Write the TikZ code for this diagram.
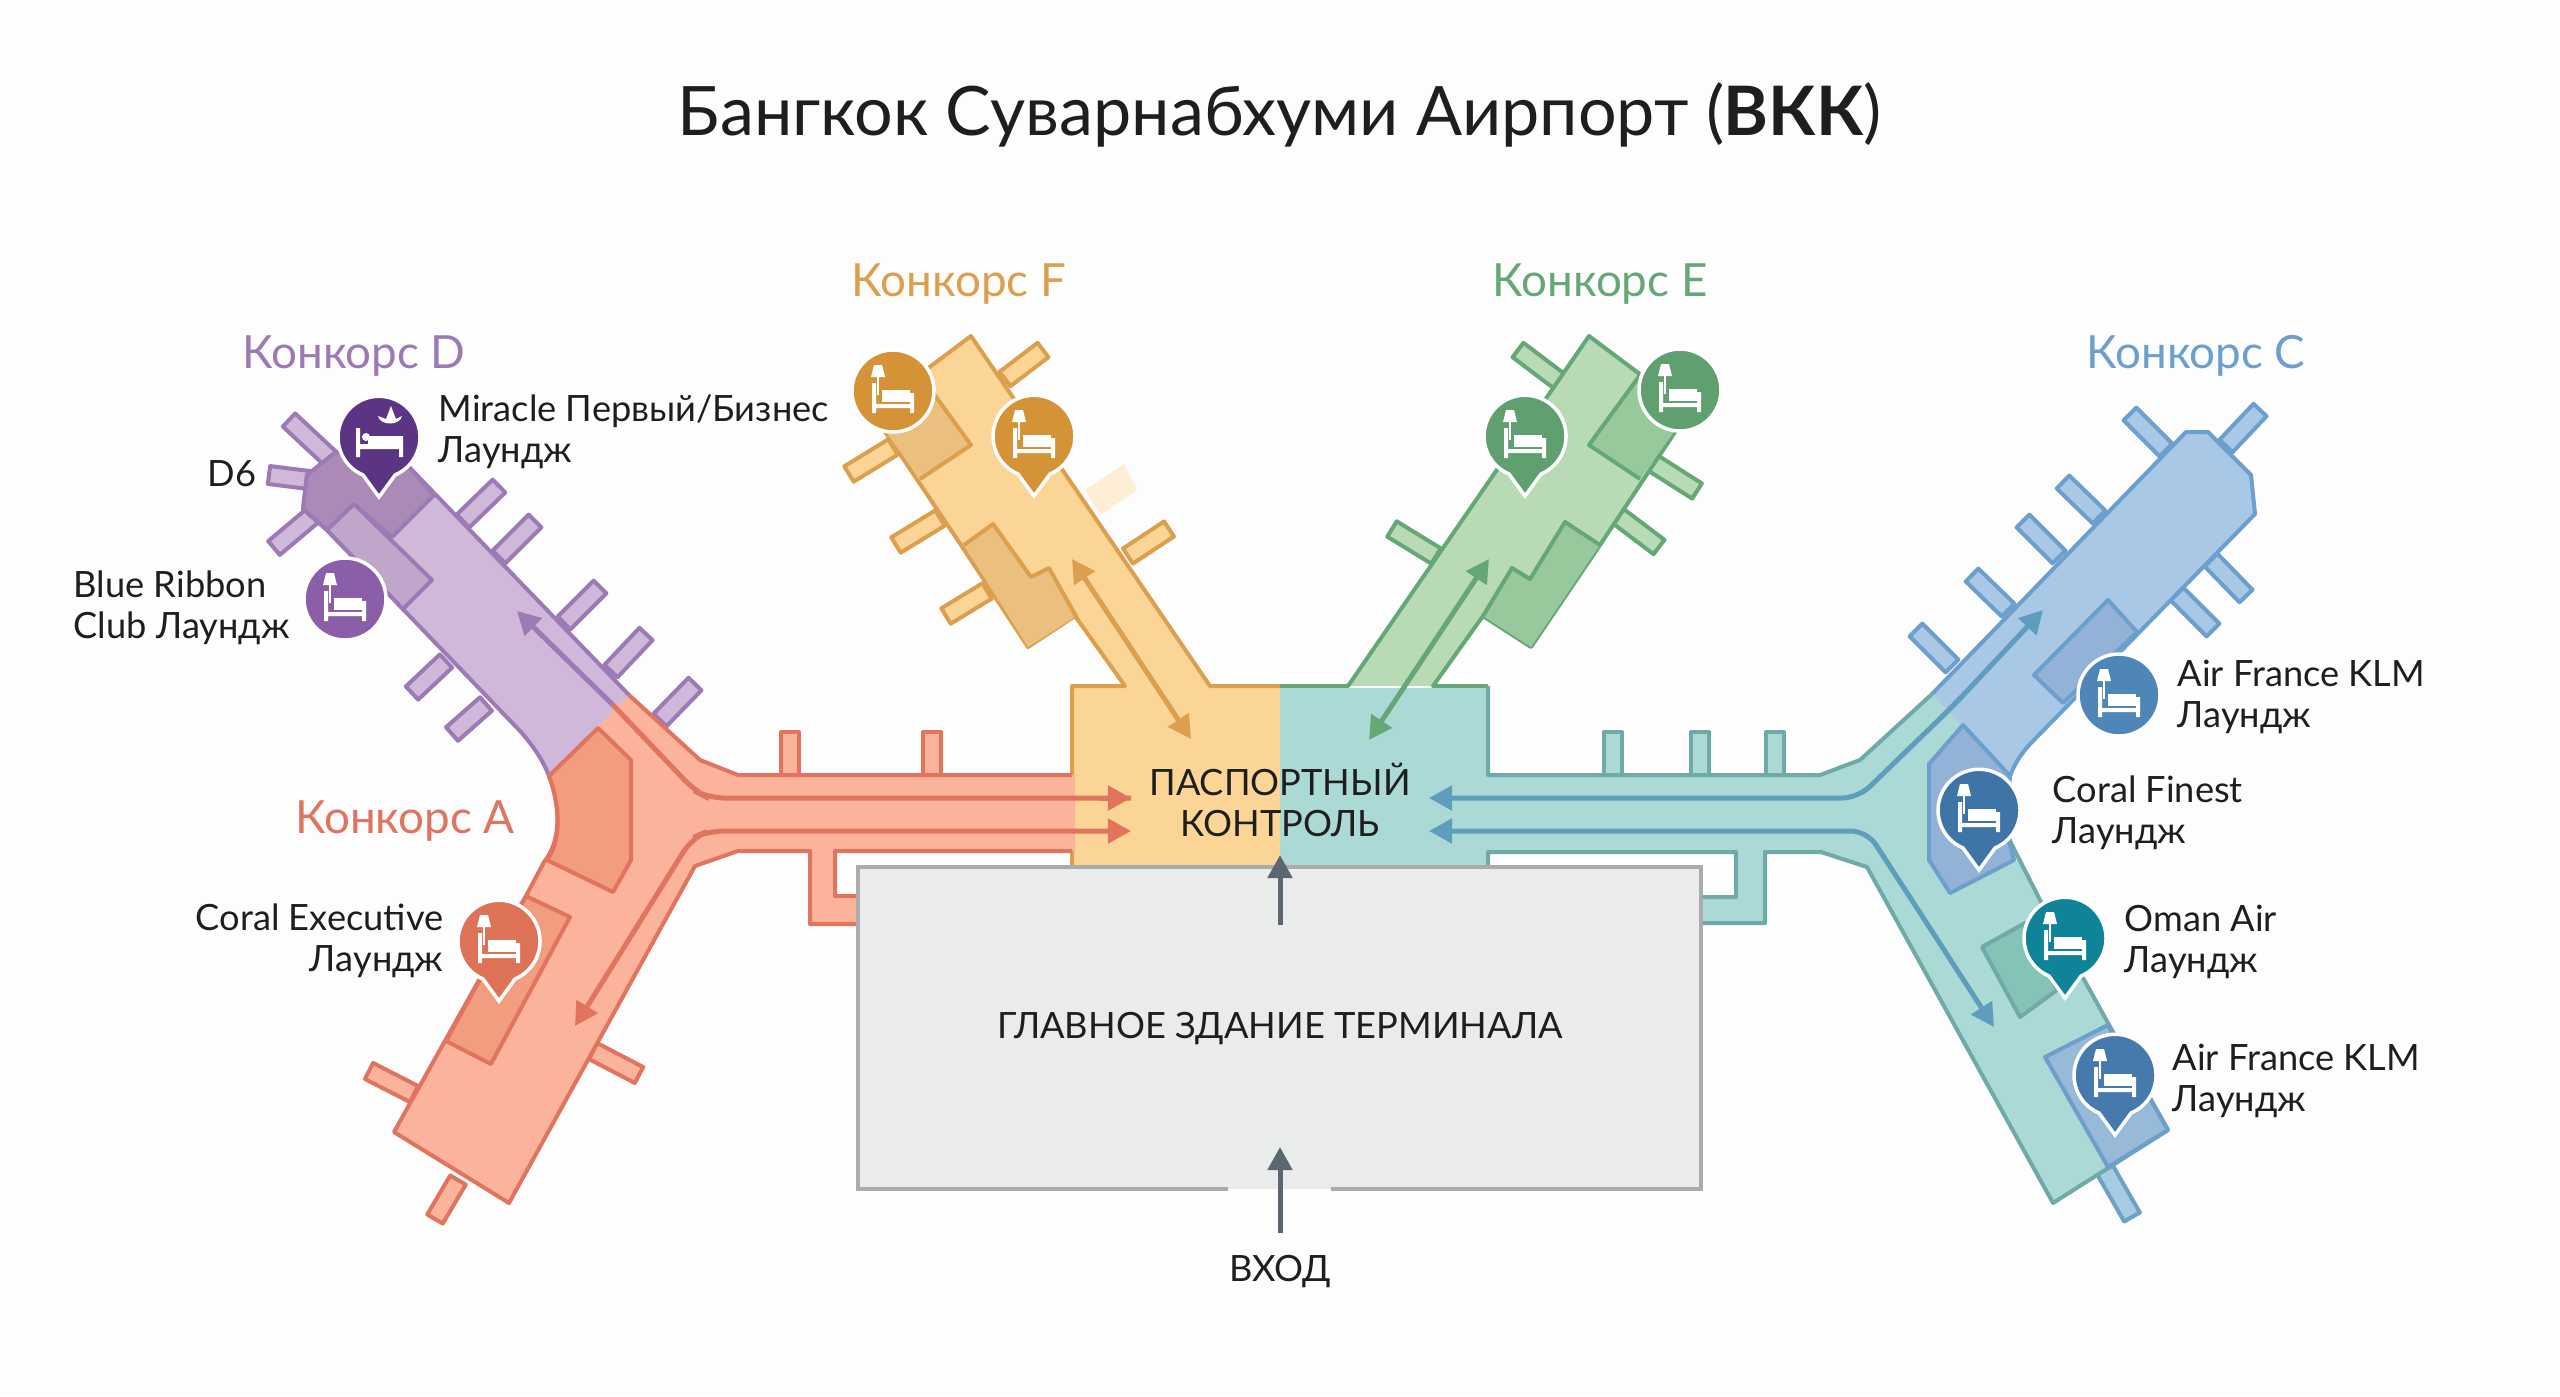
\documentclass[tikz,border=0pt]{standalone}
\usepackage{fontspec}
\setmainfont{Lato}
\usetikzlibrary{arrows.meta,calc}
\definecolor{paper}{HTML}{FDFDFD}
\definecolor{inkt}{HTML}{1E1E1E}
\definecolor{hallgray}{HTML}{EAEBEB}
\definecolor{hallline}{HTML}{ABABAB}
\definecolor{entryc}{HTML}{5B6670}
% fill, line, lounge block, mark
\definecolor{purF}{HTML}{CFB8DA}\definecolor{purL}{HTML}{9C7AB3}\definecolor{purB}{HTML}{AC8AB8}
\definecolor{corF}{HTML}{FBB39B}\definecolor{corL}{HTML}{E0745E}\definecolor{corB}{HTML}{F29C80}
\definecolor{oraF}{HTML}{FBD596}\definecolor{oraL}{HTML}{DB9F4E}\definecolor{oraB}{HTML}{EBC07F}
\definecolor{greF}{HTML}{B8DAB5}\definecolor{greL}{HTML}{66A778}\definecolor{greB}{HTML}{98C99C}
\definecolor{teaF}{HTML}{ABD9D6}\definecolor{teaL}{HTML}{6FA9A8}\definecolor{teaB}{HTML}{85C3B8}
\definecolor{bluF}{HTML}{A8C8E6}\definecolor{bluL}{HTML}{6C9FCC}\definecolor{bluB}{HTML}{92B2D8}
\definecolor{lanC}{HTML}{5F9DBD}
\definecolor{mkMir}{HTML}{5B3584}\definecolor{mkRib}{HTML}{8B5FA8}\definecolor{mkCor}{HTML}{DE7256}
\definecolor{mkOra}{HTML}{D49336}\definecolor{mkGre}{HTML}{5F9F70}\definecolor{mkAfa}{HTML}{4F86B8}
\definecolor{mkFin}{HTML}{3F75A6}\definecolor{mkOma}{HTML}{0F8398}\definecolor{mkAfb}{HTML}{4679AC}
\tikzset{
  wall/.style={line width=.04cm,line join=round},
  lane/.style={line width=.05cm,rounded corners=.16cm,>={Triangle[length=.23cm,width=.24cm]}},
  txt/.style={inner sep=0pt,text=inkt,font=\fontsize{10.3}{11.7}\selectfont},
  cname/.style={inner sep=0pt,font=\fontsize{13}{14}\selectfont},
}
% gate stub: two end points and the colours
\newcommand{\gate}[4]{\draw[wall,fill=#3,draw=#4]
  ($#1!.09cm!90:#2$) -- ($#2!.09cm!-90:#1$) -- ($#2!.09cm!90:#1$) -- ($#1!.09cm!-90:#2$) -- cycle;}
% bed with its lamp, in white
\newcommand{\bed}[2]{\begin{scope}[shift={(#1,#2)}]
  \fill[white] (-21,-8) rectangle (-17,22) (17,2) rectangle (21,22) (-21,13) rectangle (21,17);
  \fill[white] (-11,-1) rectangle (17,11);
  \fill[white] (-19,-26) -- (-11,-26) -- (-8,-14) -- (-22,-14) -- cycle;
  \draw[white,line width=.02cm] (-15,-14) -- (-15,4);
\end{scope}}
% round lounge mark, and the same with a point under it
\newcommand{\lounge}[3]{\fill[#3,draw=white,line width=.035cm] (#1,#2) circle (41);
  \bed{#1}{#2}}
\newcommand{\loungepin}[3]{\fill[#3,draw=white,line width=.035cm]
  (#1-16,#2+38) arc[start angle=113,end angle=427,radius=41] -- (#1,#2+60) -- cycle;
  \bed{#1}{#2}}
\begin{document}
\begin{tikzpicture}[x=.01cm,y=-.01cm]
\useasboundingbox (0,0) rectangle (2560,1396);
\fill[paper] (0,0) rectangle (2560,1396);
% gates D
\foreach \ax/\ay/\bx/\by in {289/420/334/462,269/475/309/480,274/548/312/516,499/486/463/521,535/521/499/557,600/587/564/623,646/634/611/671,695/684/660/720,412/693/446/661,452/734/486/704}
  \gate{(\ax,\ay)}{(\bx,\by)}{purF}{purL};
% gates A
\foreach \ax/\ay/\bx/\by in {790/732/790/778,932/732/932/778,369/1071/414/1094,639/1075/593/1051,435/1219/458/1180}
  \gate{(\ax,\ay)}{(\bx,\by)}{corF}{corL};
% gates F
\foreach \ax/\ay/\bx/\by in {1043/350/1005/379,849/474/893/447,896/545/940/518,946/616/987/591,1169/529/1128/556}
  \gate{(\ax,\ay)}{(\bx,\by)}{oraF}{oraL};
\fill[oraF!40!white] (1124,464) -- (1137,490) -- (1100,515) -- (1085,490) -- cycle;
% gates E
\foreach \ax/\ay/\bx/\by in {1518/350/1559/381,1697/491/1653/463,1659/547/1618/516,1392/529/1436/556}
  \gate{(\ax,\ay)}{(\bx,\by)}{greF}{greL};
% gates C and the teal pier
\foreach \ax/\ay/\bx/\by in {2130/414/2166/450,2260/410/2226/446,2063/482/2099/517,2023/521/2059/557,1972/575/2008/610,1916/630/1952/666,2246/596/2211/560,2213/630/2177/594}
  \gate{(\ax,\ay)}{(\bx,\by)}{bluF}{bluL};
\foreach \ax/\ay/\bx/\by in {1613/732/1613/778,1700/732/1700/778,1775/732/1775/778}
  \gate{(\ax,\ay)}{(\bx,\by)}{teaF}{teaL};
\gate{(2132,1217)}{(2105,1170)}{bluF!85!teaF}{bluL!70!teaL};
% concourse F with the left half of the hall
\fill[oraF] (971,336) -- (871,411) -- (961,545) -- (1028,647) -- (1075,616) -- (1125,686) -- (1072,686) -- (1072,867) -- (1280,867) -- (1280,686) -- (1210,686) -- cycle;
\draw[wall,oraL] (1280,686) -- (1210,686) -- (971,336) -- (871,411) -- (961,545) -- (1028,647) -- (1075,616) -- (1125,686) -- (1072,686) -- (1072,775) (1072,851) -- (1072,867);
\fill[oraB] (920,375) -- (971,445) -- (920,479) -- (871,411) -- cycle;
\draw[wall,oraL] (920,375) -- (971,445) -- (920,479);
\fill[oraB] (993,524) -- (1031,577) -- (1049,568) -- (1078,615) -- (1028,647) -- (964,545) -- cycle;
\draw[wall,oraL] (964,545) -- (993,524) -- (1031,577) -- (1049,568) -- (1078,620);
% concourse E
\fill[greF] (1589,336) -- (1689,411) -- (1600,545) -- (1531,647) -- (1483,616) -- (1433,686) -- (1348,686) -- cycle;
\draw[wall,greL] (1280,686) -- (1348,686) -- (1589,336) -- (1689,411) -- (1600,545) -- (1531,647) -- (1483,616) -- (1433,686) -- (1488,686);
\fill[greB] (1640,375) -- (1589,445) -- (1640,479) -- (1689,411) -- cycle;
\draw[wall,greL] (1640,375) -- (1589,445) -- (1640,479);
\fill[greB] (1565,522) -- (1530,579) -- (1512,568) -- (1483,616) -- (1531,647) -- (1600,545) -- cycle;
\draw[wall,greL] (1600,545) -- (1565,522) -- (1530,579) -- (1512,568) -- (1483,616);
% right half of the hall, teal corridor and pier
\fill[teaF] (1280,688) -- (1488,688) -- (1488,775) -- (1820,775) -- (1860,760) -- (1932,694) -- (2010,776) .. controls (2004,800) and (2004,825) .. (2011,843) -- (2040,900) -- (2113,1032) -- (2168,1130) -- (2053,1203) -- (1867,867) -- (1821,852) -- (1765,852) -- (1765,923) -- (1695,923) -- (1695,897) -- (1736,897) -- (1736,852) -- (1488,852) -- (1488,867) -- (1280,867) -- cycle;
\draw[wall,teaL] (1488,686) -- (1488,775) -- (1820,775) -- (1860,760) -- (1932,694) (2010,776) .. controls (2004,800) and (2004,825) .. (2011,843) -- (2040,900) -- (2113,1032) -- (2168,1130) -- (2053,1203) -- (1867,867) -- (1821,852) -- (1765,852) -- (1765,923) -- (1695,923) (1695,897) -- (1736,897) -- (1736,852) -- (1488,852) -- (1488,867);
\draw[wall,fill=teaB,draw=teaL] (1982,947) -- (2025,923) -- (2057,990) -- (2020,1017) -- cycle;
\draw[wall,fill=bluB!80!teaF,draw=bluL] (2045,1057) -- (2108,1025) -- (2168,1130) -- (2108,1167) -- cycle;
% concourse C
\fill[bluF] (1932,694) -- (2186,432) -- (2208,432) -- (2251,475) -- (2255,514) -- (2030,744) .. controls (2020,755) and (2014,765) .. (2010,776) -- cycle;
\draw[wall,bluL] (1932,694) -- (2186,432) -- (2208,432) -- (2251,475) -- (2255,514) -- (2030,744) .. controls (2020,755) and (2014,765) .. (2010,776);
\draw[wall,fill=bluB,draw=bluL] (2108,600) -- (2137,632) -- (2063,703) -- (2034,675) -- cycle;
\draw[wall,fill=bluB,draw=bluL] (1963,725) -- (1929,764) -- (1929,860) -- (1950,893) -- (2014,860) -- (2006,830) -- (2010,776) -- cycle;
% concourse D
\fill[purF] (629,695) -- (410,468) -- (336,452) -- (307,475) -- (303,509) -- (327,530) -- (521,732) .. controls (533,746) and (543,760) .. (549,776) -- cycle;
\draw[wall,purL] (629,695) -- (410,468) -- (336,452) -- (307,475) -- (303,509) -- (327,530) -- (521,732) .. controls (533,746) and (543,760) .. (549,776);
\draw[wall,fill=purB,draw=purL] (336,452) -- (307,475) -- (303,509) -- (327,530) -- (354,504) -- (392,537) -- (434,495) -- (410,468) -- cycle;
\draw[wall,fill=purF!60!purB,draw=purL] (354,504) -- (432,580) -- (403,609) -- (327,530) -- cycle;
% concourse A
\fill[corF] (1075,775) -- (738,775) -- (700,760) -- (629,695) -- (549,776) .. controls (560,805) and (562,840) .. (544,862) -- (526,896) -- (394,1132) -- (509,1203) -- (695,866) -- (738,851) -- (810,851) -- (810,924) -- (865,924) -- (865,896) -- (835,896) -- (835,851) -- (1075,851) -- cycle;
\draw[wall,corL] (1072,775) -- (738,775) -- (700,760) -- (629,695) (549,776) .. controls (560,805) and (562,840) .. (544,862) -- (526,896) -- (394,1132) -- (509,1203) -- (695,866) -- (738,851) -- (810,851) -- (810,924) -- (865,924) (865,896) -- (835,896) -- (835,851) -- (1072,851);
\draw[wall,fill=corB,draw=corL] (598,728) -- (631,760) -- (631,860) -- (613,892) -- (547,860) .. controls (562,840) and (560,805) .. (549,776) -- cycle;
\draw[wall,fill=corB,draw=corL] (526,896) -- (570,917) -- (491,1064) -- (446,1041) -- cycle;
% terminal
\draw[line width=.04cm,draw=hallline,fill=hallgray] (858,867) rectangle (1701,1189);
\fill[hallgray] (1228,1186) rectangle (1331,1189);
\fill[paper] (1228,1189) rectangle (1331,1192);
% lanes
\draw[lane,corL] (612,704) -- (695,791) -- (708,798) -- (1131,798);
\draw[lane,->,corL] (1100,798) -- (1131,798);
\draw[lane,<->,corL] (1131,831) -- (708,831) -- (692,838) -- (575,1026);
\draw[lane,->,purL] (612,704) -- (517,611);
\draw[lane,<->,oraL] (1072,559) -- (1191,739);
\draw[lane,<->,greL] (1489,559) -- (1369,740);
\draw[lane,<->,lanC] (1429,798) -- (1858,798) -- (1952,707) -- (2043,610);
\draw[lane,<->,lanC] (1429,831) -- (1867,831) -- (1994,1027);
\draw[lane,->,entryc] (1280,925) -- (1280,855);
\draw[lane,->,entryc] (1280,1233) -- (1280,1147);
% lounge marks
\fill[mkMir,draw=white,line width=.035cm] (363,475) arc[start angle=113,end angle=427,radius=41] -- (379,497) -- cycle;
\fill[white] (356,428) rectangle (360,457) (399,436) rectangle (403,457) (356,444) rectangle (403,449) (368,436) rectangle (399,444);
\fill[white] (366,437) circle (4);
\fill[white] (378,416) .. controls (380,426) and (400,426) .. (402,416) -- (396,419) -- (391,406) -- (386,419) -- cycle;
\lounge{345}{599}{mkRib}
\loungepin{499}{941}{mkCor}
\lounge{893}{391}{mkOra}
\loungepin{1034}{436}{mkOra}
\loungepin{1525}{436}{mkGre}
\lounge{1680}{390}{mkGre}
\lounge{2119}{695}{mkAfa}
\loungepin{1979}{810}{mkFin}
\loungepin{2065}{938}{mkOma}
\loungepin{2115}{1075}{mkAfb}
% texts
\begin{scope}[yshift=-.035cm]
\node[inner sep=0pt,text=inkt,font=\fontsize{19.4}{24}\selectfont] (title) at (1280,111) {Бангкок Суварнабхуми Аирпорт (\textbf{ВКК})};
\node[cname,text=oraL] (nameF) at (959,281) {Конкорс F};
\node[cname,text=greL] (nameE) at (1600,281) {Конкорс E};
\node[cname,text=purL] (nameD) at (354,353) {Конкорс D};
\node[cname,text=bluL] (nameC) at (2196,352) {Конкорс C};
\node[cname,text=corL] (nameA) at (405,818) {Конкорс A};
\node[txt,anchor=west,align=left] (miracle) at (438,428) {Miracle Первый/Бизнес\\Лаундж};
\node[txt] (d6) at (232,470) {D6};
\node[txt,anchor=west,align=left] (ribbon) at (73,604) {Blue Ribbon\\Club Лаундж};
\node[txt,anchor=east,align=right] (coralex) at (444,937) {Coral Executive\\Лаундж};
\node[txt,anchor=west,align=left] (afkl) at (2177,693) {Air France KLM\\Лаундж};
\node[txt,anchor=west,align=left] (coralfi) at (2052,809) {Coral Finest\\Лаундж};
\node[txt,anchor=west,align=left] (oman) at (2124,938) {Oman Air\\Лаундж};
\node[txt,anchor=west,align=left] (aflow) at (2172,1077) {Air France KLM\\Лаундж};
\node[txt,align=center] (passport) at (1280,796) {ПАСПОРТНЫЙ\\КОНТРОЛЬ};
\node[txt] (hall) at (1280,1025) {ГЛАВНОЕ ЗДАНИЕ ТЕРМИНАЛА};
\node[txt] (entry) at (1280,1268) {ВХОД};
\end{scope}
\end{tikzpicture}
\end{document}
